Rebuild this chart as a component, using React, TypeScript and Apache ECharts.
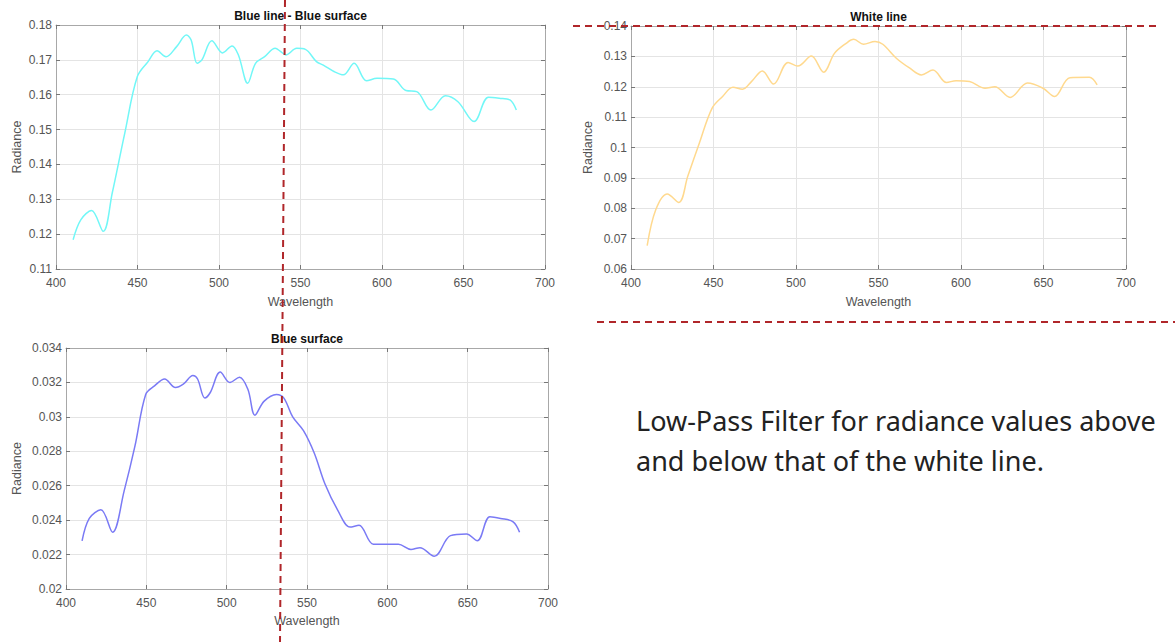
import React, { useEffect, useRef } from "react";
import * as echarts from "echarts";

// Blue line - Blue surface: [wavelength, radiance]
const blueLineMinusSurface: [number, number][] = [
  [410.5, 0.1184], [415.2, 0.1241], [421.8, 0.1268], [429, 0.1208], [434.5, 0.1318],
  [442.2, 0.149], [449.9, 0.1652], [456.5, 0.1695], [462, 0.1726], [467.5, 0.1709],
  [474, 0.1738], [480, 0.1771], [482.9, 0.1757], [486.6, 0.169], [489.5, 0.170],
  [495.6, 0.1755], [502.2, 0.172], [508, 0.174], [511.9, 0.1714], [517.6, 0.1633],
  [522.4, 0.169], [528, 0.1709], [534.5, 0.1733], [537.8, 0.1724], [541, 0.1714],
  [547.7, 0.1733], [553, 0.173], [559.8, 0.1695], [564, 0.1685], [570.8, 0.1666],
  [576.3, 0.1657], [582.9, 0.169], [590.5, 0.164], [597, 0.1647], [607, 0.1645],
  [614.7, 0.1612], [621.3, 0.1609], [630, 0.1556], [638.9, 0.1597], [646.6, 0.158],
  [656.5, 0.1523], [665.3, 0.1593], [671.9, 0.159], [678.5, 0.1585], [682.4, 0.1556],
];

// White line
const whiteLine: [number, number][] = [
  [409.8, 0.0677], [415, 0.0795], [422, 0.0847], [429, 0.0819], [434.4, 0.0905],
  [441.4, 0.1014], [449.1, 0.1129], [455.5, 0.1168], [461.8, 0.1198], [467.6, 0.1192],
  [473, 0.1217], [479.6, 0.1252], [486.4, 0.1209], [495.2, 0.128], [501.1, 0.1268],
  [509.3, 0.1301], [516.8, 0.1248], [523.3, 0.131], [530.4, 0.1343], [535, 0.1356],
  [540.9, 0.134], [547.9, 0.1349], [552.6, 0.134], [560.8, 0.1294], [569, 0.1261],
  [576, 0.1239], [583, 0.1255], [591.2, 0.1214], [597, 0.122], [605.2, 0.1217],
  [614.6, 0.1195], [620.5, 0.12], [629.8, 0.1165], [640.3, 0.1212], [649.7, 0.1195],
  [656.7, 0.1168], [666, 0.123], [677.8, 0.1231], [682.5, 0.1206],
];

// Blue surface
const blueSurface: [number, number][] = [
  [410, 0.0228], [414.5, 0.0241], [421.7, 0.0246], [429, 0.0233], [436.2, 0.0257],
  [442.9, 0.0283], [449.6, 0.0313], [455.1, 0.0318], [461.4, 0.0322], [468.1, 0.0317],
  [473, 0.0319], [479, 0.0324], [481.9, 0.0322], [486.4, 0.0311], [489.7, 0.0314],
  [496, 0.0326], [502, 0.032], [508, 0.0323], [513.2, 0.0316], [517.6, 0.0301],
  [523.2, 0.0309], [531, 0.0313], [535.5, 0.0311], [541.1, 0.030], [547.8, 0.0292],
  [554.5, 0.0279], [561.2, 0.0261], [569, 0.0246], [576.8, 0.0236], [582.4, 0.0237],
  [591.3, 0.0226], [600.2, 0.0226], [606.9, 0.0226], [614.7, 0.0223], [620.3, 0.0224],
  [629.2, 0.0219], [639.3, 0.0231], [649.3, 0.0232], [656, 0.0228], [663.8, 0.0242],
  [670.5, 0.0241], [678.3, 0.0239], [682.3, 0.0233],
];

const titles = ["Blue line - Blue surface", "White line", "Blue surface"];
const yRanges = [
  { min: 0.11, max: 0.18, interval: 0.01 },
  { min: 0.06, max: 0.14, interval: 0.01 },
  { min: 0.02, max: 0.034, interval: 0.002 },
];
const xRange = { min: 400, max: 700, interval: 50 };
const noteLines = [
  "Low-Pass Filter for radiance values above",
  "and below that of the white line.",
];

const grids = [
  { left: 56, top: 25, width: 489, height: 244 },
  { left: 631, top: 26, width: 495, height: 243 },
  { left: 66, top: 348, width: 482, height: 241 },
];
const yNameGaps = [33, 37, 43];
const xNameGaps = [26, 26, 25];
const colors = ["#72f7f7", "#ffd98e", "#7a7af5"];

export default function App() {
  const ref = useRef<HTMLDivElement>(null);
  useEffect(() => {
    document.body.style.margin = "0";
    if (!ref.current) return;
    const chart = echarts.init(ref.current, undefined, { renderer: "svg" });
    const datasets = [blueLineMinusSurface, whiteLine, blueSurface];
    const axisLineStyle = { color: "#a8a8a8", width: 1 };
    const labelStyle = { color: "#555", fontSize: 12, fontFamily: "Liberation Sans" };
    const xAxes: any[] = [];
    const yAxes: any[] = [];
    grids.forEach((g, i) => {
      xAxes.push({
        type: "value", gridIndex: i, position: "bottom", ...xRange,
        axisLine: { show: true, lineStyle: axisLineStyle },
        axisTick: { show: true, inside: true, length: 4, lineStyle: { color: "#777" } },
        axisLabel: { ...labelStyle, margin: 8 },
        splitLine: { show: true, lineStyle: { color: "#e4e4e4" } },
        name: "Wavelength", nameLocation: "middle", nameGap: xNameGaps[i],
        nameTextStyle: { color: "#555", fontSize: 12.5, fontFamily: "Liberation Sans" },
      });
      xAxes.push({
        type: "value", gridIndex: i, position: "top", ...xRange,
        axisLine: { show: true, lineStyle: axisLineStyle },
        axisTick: { show: true, inside: true, length: 4, lineStyle: { color: "#777" } },
        axisLabel: { show: false }, splitLine: { show: false },
      });
      yAxes.push({
        type: "value", gridIndex: i, position: "left", ...yRanges[i],
        axisLine: { show: true, lineStyle: axisLineStyle },
        axisTick: { show: true, inside: true, length: 4, lineStyle: { color: "#777" } },
        axisLabel: { ...labelStyle, margin: 4 },
        splitLine: { show: true, lineStyle: { color: "#e4e4e4" } },
        name: "Radiance", nameLocation: "middle", nameGap: yNameGaps[i],
        nameTextStyle: { color: "#555", fontSize: 12.5, fontFamily: "Liberation Sans" },
      });
      yAxes.push({
        type: "value", gridIndex: i, position: "right", ...yRanges[i],
        axisLine: { show: true, lineStyle: axisLineStyle },
        axisTick: { show: true, inside: true, length: 4, lineStyle: { color: "#777" } },
        axisLabel: { show: false }, splitLine: { show: false },
      });
    });
    const series = datasets.map((d, i) => ({
      type: "line", xAxisIndex: i * 2, yAxisIndex: i * 2, data: d,
      showSymbol: false, smooth: 0.35,
      lineStyle: { color: colors[i], width: 1.5 },
    }));
    const titleTexts = grids.map((g, i) => ({
      type: "text", x: g.left + g.width / 2, y: g.top - 3,
      style: {
        text: titles[i], fill: "#111", font: "bold 12px Liberation Sans",
        textAlign: "center", textVerticalAlign: "bottom",
      },
    }));
    const dash = { stroke: "#b0262a", lineWidth: 2, lineDash: [7, 5] };
    const noteFont = "27px Noto Sans";
    chart.setOption({
      animation: false,
      backgroundColor: "#fff",
      grid: grids,
      xAxis: xAxes,
      yAxis: yAxes,
      series,
      graphic: [
        ...titleTexts,
        {
          type: "text", x: 636, y: 420,
          style: { text: noteLines[0], fill: "#222", font: noteFont, textVerticalAlign: "middle" },
        },
        {
          type: "text", x: 636, y: 460,
          style: { text: noteLines[1], fill: "#222", font: noteFont, textVerticalAlign: "middle" },
        },
        { type: "line", shape: { x1: 285, y1: 0, x2: 280, y2: 642 }, style: dash, z: 100 },
        { type: "line", shape: { x1: 573, y1: 26, x2: 1160, y2: 26 }, style: dash, z: 100 },
        { type: "line", shape: { x1: 597, y1: 322, x2: 1175, y2: 322 }, style: dash, z: 100 },
      ],
    });
    return () => chart.dispose();
  }, []);
  return <div ref={ref} style={{ width: 1175, height: 642 }} />;
}
